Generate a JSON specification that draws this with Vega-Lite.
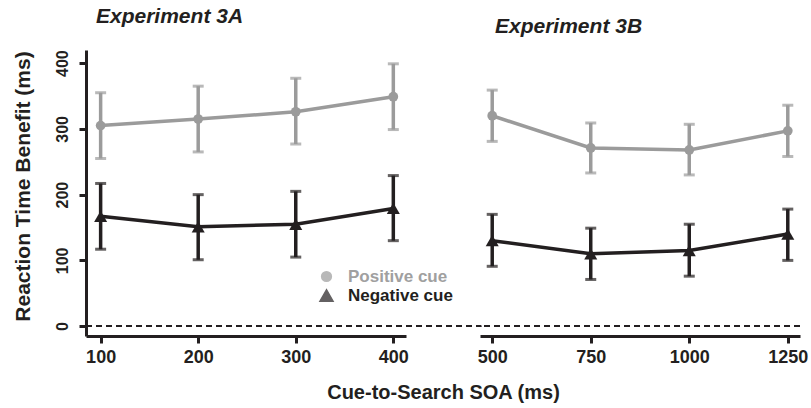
{
  "$schema": "https://vega.github.io/schema/vega-lite/v6.json",
  "padding": {"left": 11, "top": 5, "right": 5, "bottom": 5},
  "background": "white",
  "datasets": {
    "expA": [
      {"cue": "Positive cue", "soa": 100, "mean": 305, "hi": 355, "lo": 255},
      {"cue": "Positive cue", "soa": 200, "mean": 315, "hi": 365, "lo": 265},
      {"cue": "Positive cue", "soa": 300, "mean": 326, "hi": 377, "lo": 277},
      {"cue": "Positive cue", "soa": 400, "mean": 349, "hi": 399, "lo": 299},
      {"cue": "Negative cue", "soa": 100, "mean": 167, "hi": 217, "lo": 117},
      {"cue": "Negative cue", "soa": 200, "mean": 151, "hi": 200, "lo": 101},
      {"cue": "Negative cue", "soa": 300, "mean": 155, "hi": 205, "lo": 105},
      {"cue": "Negative cue", "soa": 400, "mean": 179, "hi": 229, "lo": 130}
    ],
    "expB": [
      {"cue": "Positive cue", "soa": 500, "mean": 320, "hi": 359, "lo": 281},
      {"cue": "Positive cue", "soa": 750, "mean": 271, "hi": 309, "lo": 233},
      {"cue": "Positive cue", "soa": 1000, "mean": 268, "hi": 307, "lo": 230},
      {"cue": "Positive cue", "soa": 1250, "mean": 297, "hi": 336, "lo": 258},
      {"cue": "Negative cue", "soa": 500, "mean": 130, "hi": 170, "lo": 91},
      {"cue": "Negative cue", "soa": 750, "mean": 110, "hi": 149, "lo": 71},
      {"cue": "Negative cue", "soa": 1000, "mean": 115, "hi": 155, "lo": 76},
      {"cue": "Negative cue", "soa": 1250, "mean": 140, "hi": 178, "lo": 100}
    ]
  },
  "hconcat": [
    {
      "width": 320,
      "height": 286,
      "title": {"text": "Experiment 3A", "anchor": "start", "frame": "group", "dx": 10, "offset": 6, "baseline": "alphabetic", "fontSize": 21, "fontStyle": "italic", "fontWeight": "bold", "font": "Liberation Sans", "color": "#231f20"},
      "data": {"name": "expA"},
      "layer": [
        {
          "mark": {"type": "rule", "strokeDash": [6, 4], "strokeWidth": 1.5, "color": "#231f20", "clip": false},
          "encoding": {"y": {"datum": 0}, "x": {"datum": 85}, "x2": {"datum": 490}}
        },
        {
          "mark": {"type": "errorbar", "ticks": {"size": 11, "thickness": 3}, "rule": {"strokeWidth": 3.5}},
          "encoding": {
            "x": {"field": "soa", "type": "quantitative"},
            "y": {"field": "lo", "type": "quantitative", "title": "Reaction Time Benefit (ms)"},
            "y2": {"field": "hi"},
            "color": {"field": "cue", "type": "nominal"}
          }
        },
        {
          "mark": {"type": "line", "strokeWidth": 3.5},
          "encoding": {
            "x": {"field": "soa", "type": "quantitative"},
            "y": {"field": "mean", "type": "quantitative", "title": "Reaction Time Benefit (ms)"},
            "color": {"field": "cue", "type": "nominal"}
          }
        },
        {
          "mark": {"type": "point", "filled": true, "opacity": 1},
          "encoding": {
            "x": {"field": "soa", "type": "quantitative", "scale": {"domain": [85, 413], "nice": false, "zero": false},
              "axis": {"values": [100, 200, 300, 400], "format": "d", "title": "Cue-to-Search SOA (ms)", "titleX": 357, "titleY": 62, "titleBaseline": "alphabetic", "titleAlign": "center"}},
            "y": {"field": "mean", "type": "quantitative", "title": "Reaction Time Benefit (ms)", "scale": {"domain": [-15, 420], "nice": false, "zero": false},
              "axis": {"values": [0, 100, 200, 300, 400], "labelAngle": 270, "titleX": -63, "titleY": 136, "titleBaseline": "middle", "titleAlign": "center", "titleAngle": 270, "titleFontSize": 21}},
            "color": {"field": "cue", "type": "nominal",
              "scale": {"domain": ["Positive cue", "Negative cue"], "range": ["#9b9b9b", "#231f20"]},
              "legend": {"orient": "none", "legendX": 232, "legendY": 218, "title": null, "direction": "vertical", "padding": 0, "symbolType": "circle",
                "labelFontSize": 17, "labelFont": "Liberation Sans", "labelFontWeight": "bold", "symbolSize": 60, "symbolOpacity": 1, "rowPadding": 1, "labelOffset": 13,
                "labelColor": {"expr": "datum.label === 'Positive cue' ? '#a0a0a0' : '#231f20'"}}},
            "shape": {"field": "cue", "type": "nominal",
              "scale": {"domain": ["Positive cue", "Negative cue"], "range": ["circle", "triangle-up"]}},
            "size": {"field": "cue", "type": "nominal", "scale": {"domain": ["Positive cue", "Negative cue"], "range": [95, 170]}, "legend": null}
          }
        }
      ]
    },
    {
      "width": 320,
      "height": 286,
      "title": {"text": "Experiment 3B", "anchor": "start", "frame": "group", "dx": 15, "offset": -4, "baseline": "alphabetic", "fontSize": 21, "fontStyle": "italic", "fontWeight": "bold", "font": "Liberation Sans", "color": "#231f20"},
      "data": {"name": "expB"},
      "layer": [
        {
          "mark": {"type": "rule", "strokeDash": [6, 4], "strokeWidth": 1.5, "color": "#231f20"},
          "encoding": {"y": {"datum": 0}}
        },
        {
          "mark": {"type": "errorbar", "ticks": {"size": 11, "thickness": 3}, "rule": {"strokeWidth": 3.5}},
          "encoding": {
            "x": {"field": "soa", "type": "quantitative"},
            "y": {"field": "lo", "type": "quantitative"},
            "y2": {"field": "hi"},
            "color": {"field": "cue", "type": "nominal", "scale": {"domain": ["Positive cue", "Negative cue"], "range": ["#9b9b9b", "#231f20"]}, "legend": null}
          }
        },
        {
          "mark": {"type": "line", "strokeWidth": 3.5},
          "encoding": {
            "x": {"field": "soa", "type": "quantitative"},
            "y": {"field": "mean", "type": "quantitative"},
            "color": {"field": "cue", "type": "nominal", "legend": null}
          }
        },
        {
          "mark": {"type": "point", "filled": true, "opacity": 1},
          "encoding": {
            "x": {"field": "soa", "type": "quantitative", "scale": {"domain": [469, 1281], "nice": false, "zero": false},
              "axis": {"values": [500, 750, 1000, 1250], "format": "d", "title": null}},
            "y": {"field": "mean", "type": "quantitative", "scale": {"domain": [-15, 420], "nice": false, "zero": false}, "axis": null},
            "color": {"field": "cue", "type": "nominal", "legend": null},
            "shape": {"field": "cue", "type": "nominal", "scale": {"domain": ["Positive cue", "Negative cue"], "range": ["circle", "triangle-up"]}, "legend": null},
            "size": {"field": "cue", "type": "nominal", "scale": {"domain": ["Positive cue", "Negative cue"], "range": [95, 170]}, "legend": null}
          }
        }
      ]
    }
  ],
  "resolve": {"scale": {"x": "independent", "y": "independent", "color": "independent", "shape": "independent", "size": "independent"}, "legend": {"color": "independent", "shape": "independent", "size": "independent"}},
  "spacing": 74,
  "bounds": "flush",
  "config": {
    "view": {"stroke": null},
    "font": "Liberation Sans",
    "axis": {
      "grid": false,
      "domainColor": "#231f20",
      "domainWidth": 3,
      "tickColor": "#231f20",
      "tickWidth": 3,
      "tickSize": 7,
      "labelFont": "Liberation Sans",
      "labelFontWeight": "bold",
      "labelFontSize": 18,
      "labelColor": "#231f20",
      "labelPadding": 5,
      "titleFont": "Liberation Sans",
      "titleFontWeight": "bold",
      "titleFontSize": 20,
      "titleColor": "#231f20"
    },
    "axisY": {"labelFontSize": 16, "labelPadding": 9}
  }
}
